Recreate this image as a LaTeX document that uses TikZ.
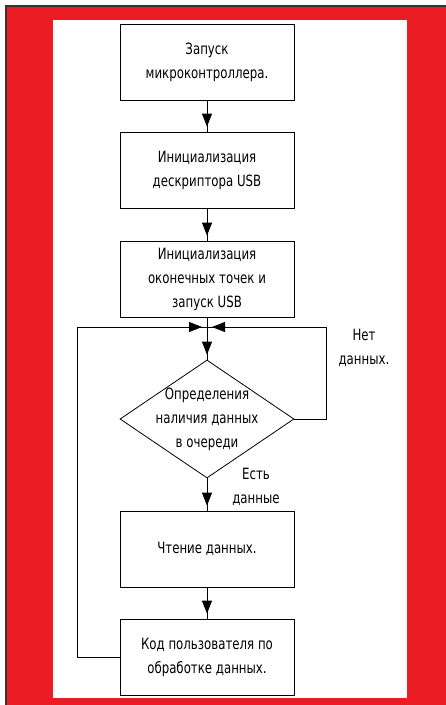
\documentclass[tikz,border=0pt]{standalone}
\usepackage{fontspec}
\setmainfont{DejaVu Sans}[FakeStretch=0.76]
\usetikzlibrary{shapes.geometric,arrows.meta,decorations.markings}
\definecolor{frame}{HTML}{EC1C24}
\begin{document}
\begin{tikzpicture}[x=1pt, y=-1pt,
    block/.style={draw, thick, minimum width=174pt, minimum height=76pt, align=center,
                  font=\fontsize{15.5}{24}\selectfont},
    decide/.style={draw, diamond, thick, minimum width=174pt, minimum height=118pt,
                   shape aspect=1.5, inner sep=-9pt, align=center,
                   font=\fontsize{15.5}{24}\selectfont},
    lbl/.style={align=center, font=\fontsize{15.5}{24}\selectfont},
    flow/.style={thick, postaction={decorate}, decoration={markings,
                 mark=at position -5pt with {\arrow{Triangle[length=13pt,width=10pt]}}}}]
      \useasboundingbox (0, 0) rectangle (446, 705);
      \fill[frame] (7, 7) rectangle (446, 705);
      \draw[black!80, line width=1.2pt] (6, 705) -- (6, 6) -- (446, 6);
      \fill[white] (53, 20) rectangle (407, 698);
      \node (start) [block] at (207, 62) {Запуск\\микроконтроллера.};
      \node (desc) [block] at (207, 170) {Инициализация\\дескриптора USB};
      \node (ends) [block] at (207, 279) {Инициализация\\оконечных точек и\\запуск USB};
      \node (check) [decide] at (207, 419) {Определения\\наличия данных\\в очереди};
      \node (read) [block] at (207, 549) {Чтение данных.};
      \node (user) [block] at (207, 657) {Код пользователя по\\обработке данных.};
      \coordinate (join) at (207, 327);
      \coordinate (lft) at (77, 327);
      \coordinate (rgt) at (326, 327);
      \node (none) [lbl] at (364, 348) {Нет\\данных.};
      \node (have) [lbl] at (256, 487) {Есть\\данные};
      \draw[flow] (start) -- (desc);
      \draw[flow] (desc) -- (ends);
      \draw[thick] (ends) -- (join);
      \draw[flow] (join) -- (check);
      \draw[flow] (check) -- (read);
      \draw[flow] (read) -- (user);
      \draw[flow] (user.west) -| (lft) -- (join);
      \draw[flow] (check.east) -| (rgt) -- (join);
\end{tikzpicture}
\end{document}
